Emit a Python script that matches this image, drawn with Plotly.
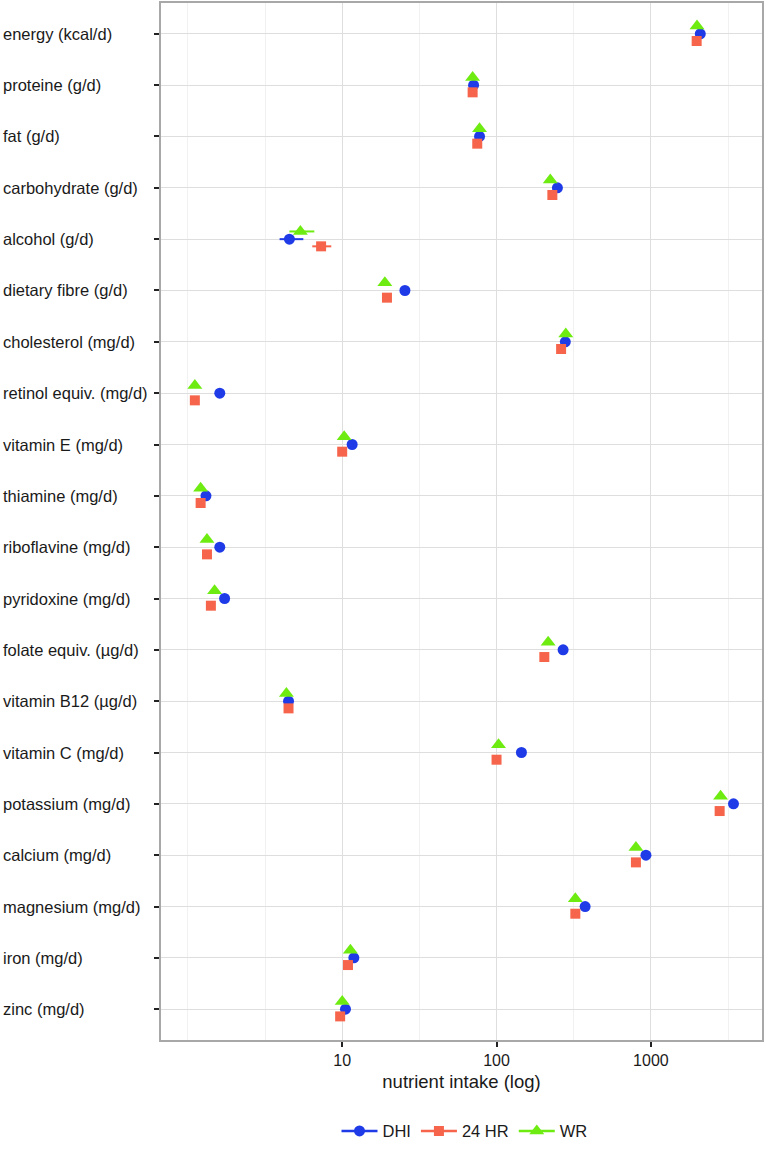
import plotly.graph_objects as go

nutrients = ["energy (kcal/d)", "proteine (g/d)", "fat (g/d)", "carbohydrate (g/d)",
             "alcohol (g/d)", "dietary fibre (g/d)", "cholesterol (mg/d)",
             "retinol equiv. (mg/d)", "vitamin E (mg/d)", "thiamine (mg/d)",
             "riboflavine (mg/d)", "pyridoxine (mg/d)", "folate equiv. (µg/d)",
             "vitamin B12 (µg/d)", "vitamin C (mg/d)", "potassium (mg/d)",
             "calcium (mg/d)", "magnesium (mg/d)", "iron (mg/d)", "zinc (mg/d)"]

dhi = [2090, 71, 77.6, 248, 4.55, 25.5, 279, 1.61, 11.6, 1.31,
       1.61, 1.73, 270, 4.49, 145, 3430, 929, 375, 11.9, 10.5]
hr24 = [1980, 70, 75, 230, 7.3, 19.5, 262, 1.11, 10.0, 1.21,
        1.33, 1.41, 204, 4.49, 100, 2790, 800, 324, 10.9, 9.7]
wr = [1990, 70, 77.6, 223, 5.36, 18.9, 281, 1.11, 10.3, 1.21,
      1.33, 1.49, 216, 4.35, 103, 2830, 800, 324, 11.3, 10.0]

# 95% CI bounds (only visible for alcohol; others hidden under markers)
dhi_lo = list(dhi); dhi_hi = list(dhi)
hr24_lo = list(hr24); hr24_hi = list(hr24)
wr_lo = list(wr); wr_hi = list(wr)
dhi_lo[4], dhi_hi[4] = 3.93, 5.6
hr24_lo[4], hr24_hi[4] = 6.4, 8.5
wr_lo[4], wr_hi[4] = 4.55, 6.6

x_ticks = [10, 100, 1000]
x_tick_labels = ["10", "100", "1000"]

series = [
    ("DHI", dhi, dhi_lo, dhi_hi, "#1F3BE8", "circle", 11, 0.0),
    ("24 HR", hr24, hr24_lo, hr24_hi, "#F6654B", "square", 10, -0.14),
    ("WR", wr, wr_lo, wr_hi, "#6EEC12", "triangle-up", 13, 0.15),
]

n = len(nutrients)
ypos = [-i for i in range(n)]
FONT = "Liberation Sans, Arial"

fig = go.Figure()
for name, vals, lo, hi, col, sym, sz, off in series:
    fig.add_trace(go.Scatter(
        x=vals, y=[y + off for y in ypos], mode="markers",
        marker=dict(color=col, symbol=sym, size=sz, line=dict(width=0)),
        error_x=dict(type="data", symmetric=False,
                     array=[h - v for h, v in zip(hi, vals)],
                     arrayminus=[v - l for v, l in zip(vals, lo)],
                     color=col, thickness=2, width=0),
        showlegend=False, name=name))
for name, vals, lo, hi, col, sym, sz, off in series:
    fig.add_trace(go.Scatter(
        x=[None], y=[None], mode="lines+markers", name=name,
        marker=dict(color=col, symbol=sym, size=sz, line=dict(width=0)),
        line=dict(color=col, width=2.5)))

for lab, y in zip(nutrients, ypos):
    fig.add_annotation(text=lab, x=-161 / 603, xref="paper", y=y, yref="y",
                       xanchor="left", yanchor="middle", showarrow=False,
                       font=dict(family=FONT, size=16.5, color="#1a1a1a"))

fig.update_xaxes(type="log", range=[-0.174, 3.72],
                 tickvals=x_ticks, ticktext=x_tick_labels,
                 ticks="outside", ticklen=5, tickcolor="#222", tickwidth=1.5,
                 tickfont=dict(family=FONT, size=16, color="#1a1a1a"),
                 showgrid=True, gridcolor="#DEDEDE", gridwidth=1,
                 minor=dict(tickvals=[1, 3.1623, 31.623, 316.23, 3162.3],
                            showgrid=True, gridcolor="#F1F1F1", gridwidth=1, ticks=""),
                 showline=True, linecolor="#A8A8A8", linewidth=1.5, mirror=True,
                 zeroline=False,
                 title=dict(text="nutrient intake (log)", standoff=7,
                            font=dict(family=FONT, size=18.5, color="#1a1a1a")))
fig.update_yaxes(range=[-(n - 1) - 0.6, 0.6], tickvals=ypos, showticklabels=False,
                 ticks="outside", ticklen=5, tickcolor="#222", tickwidth=1.5,
                 showgrid=True, gridcolor="#DEDEDE", gridwidth=1,
                 showline=True, linecolor="#A8A8A8", linewidth=1.5, mirror=True,
                 zeroline=False)

fig.update_layout(
    width=765, height=1150,
    margin=dict(l=161, r=1, t=1, b=104),
    plot_bgcolor="white", paper_bgcolor="white",
    legend=dict(orientation="h", x=0.505, xanchor="center", y=-0.088, yanchor="middle",
                font=dict(family=FONT, size=16.5, color="#1a1a1a"),
                itemwidth=36, tracegroupgap=0),
)

fig.write_html("out.html",
               config={"displayModeBar": False},
               post_script="document.body.style.margin='0px';document.body.style.overflow='hidden';")
